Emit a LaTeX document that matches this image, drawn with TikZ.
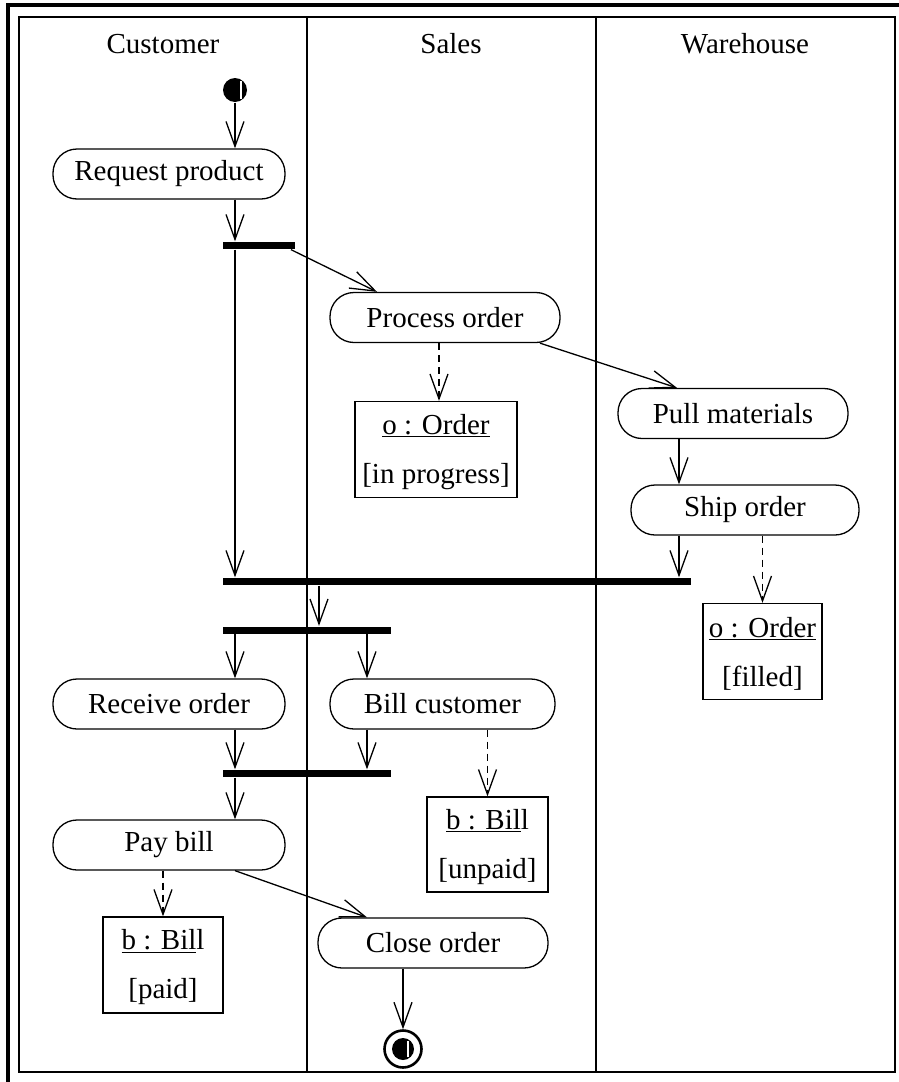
\documentclass[tikz,border=0pt]{standalone}
\usepackage{fontspec}
\setmainfont{Liberation Serif}
\usetikzlibrary{arrows.meta}
\begin{document}
\begin{tikzpicture}[x=1pt,y=-1pt,
  line width=1.3pt,
  >={Straight Barb[length=25pt,width=18pt,line width=1.3pt]},
  every node/.style={font=\fontsize{29}{35}\selectfont, inner sep=0pt},
  activity/.style={draw, rounded corners=24pt, minimum height=50pt},
  objbox/.style={draw, align=center, minimum height=96pt},
  bar/.style={fill=black, minimum height=7pt},
  flow/.style={->},
  objflow/.style={->, dash pattern=on 7pt off 5pt},
  lanetitle/.style={anchor=base}]

\useasboundingbox (0,0) rectangle (899,1082);

% frame and swimlanes
\draw[line width=3.5pt] (6.25,5) -- (899,5);
\draw[line width=3.5pt] (8,3.25) -- (8,1082);
\draw (19,17) rectangle (895,1072);
\draw (307,17) -- (307,1072);
\draw (596,17) -- (596,1072);

\node[lanetitle] (laneA) at (163,53) {Customer};
\node[lanetitle] (laneB) at (451,53) {Sales};
\node[lanetitle] (laneC) at (745,53) {Warehouse};

% start and end points
\node[circle, fill=black, minimum size=24pt] (init) at (235,90) {};
\draw[white, line width=1.2pt] ([xshift=6pt,yshift=-9pt]init.center) -- ([xshift=6pt,yshift=9pt]init.center);

\node[circle, draw, line width=2.6pt, minimum size=37pt] (final) at (403,1049) {};
\node[circle, fill=black, minimum size=22pt] (finalcore) at (403,1049) {};
\draw[white, line width=1.2pt] ([xshift=5pt,yshift=-8pt]finalcore.center) -- ([xshift=5pt,yshift=8pt]finalcore.center);

% activities
\node[activity, minimum width=232pt] (req)   at (169,174)   {Request product};
\node[activity, minimum width=230pt] (proc)  at (445,317.5) {Process order};
\node[activity, minimum width=230pt] (pull)  at (733,413.5) {Pull materials};
\node[activity, minimum width=228pt] (ship)  at (745,510)   {Ship order};
\node[activity, minimum width=232pt] (recv)  at (169,704)   {Receive order};
\node[activity, minimum width=225pt] (bill)  at (442.5,704) {Bill customer};
\node[activity, minimum width=232pt] (pay)   at (169,845)   {Pay bill};
\node[activity, minimum width=230pt] (close) at (433,943)   {Close order};

% fork and join bars
\node[bar, minimum width=72pt]  (fork1) at (259,245.5) {};
\node[bar, minimum width=468pt] (join1) at (457,581.5) {};
\node[bar, minimum width=168pt] (fork2) at (307,630)   {};
\node[bar, minimum width=168pt] (join2) at (307,773.5) {};

% object nodes
\node[objbox, minimum width=162pt] (ordA) at (436,449.5)
  {\rule{0pt}{25pt}\underline{o : Order}\\[14pt]{}[in progress]};
\node[objbox, minimum width=119pt] (ordB) at (762.5,651.5)
  {\rule{0pt}{25pt}\underline{o : Order}\\[14pt]{}[filled]};
\node[objbox, minimum width=121pt, minimum height=95pt] (billA) at (487.5,844.5)
  {\rule{0pt}{25pt}\underline{b : Bil}l\\[14pt]{}[unpaid]};
\node[objbox, minimum width=120pt] (billB) at (163,965)
  {\rule{0pt}{25pt}\underline{b : Bil}l\\[14pt]{}[paid]};

% control flow
\draw[flow] (init.south) -- ([xshift=66pt]req.north);
\draw[flow] ([xshift=66pt]req.south) -- ([xshift=-24pt]fork1.north);
\draw[flow] ([xshift=-24pt]fork1.south) -- ([xshift=-222pt]join1.north);
\draw[flow] ([xshift=32pt]fork1.south) -- ([xshift=-68pt]proc.north);
\draw[flow] ([xshift=95pt]proc.south) -- ([xshift=-56pt]pull.north);
\draw[flow] ([xshift=-54pt]pull.south) -- ([xshift=-66pt]ship.north);
\draw[flow] ([xshift=-66pt]ship.south) -- ([xshift=222pt]join1.north);
\draw[flow] ([xshift=-138pt]join1.south) -- ([xshift=12pt]fork2.north);
\draw[flow] ([xshift=-72pt]fork2.south) -- ([xshift=66pt]recv.north);
\draw[flow] ([xshift=60pt]fork2.south) -- ([xshift=-75.5pt]bill.north);
\draw[flow] ([xshift=66pt]recv.south) -- ([xshift=-72pt]join2.north);
\draw[flow] ([xshift=-75.5pt]bill.south) -- ([xshift=60pt]join2.north);
\draw[flow] ([xshift=-72pt]join2.south) -- ([xshift=66pt]pay.north);
\draw[flow] ([xshift=66pt]pay.south) -- ([xshift=-66pt]close.north);
\draw[flow] ([xshift=-30pt]close.south) -- (final.north);

% object flow
\draw[objflow] ([xshift=3pt]ordA.north |- proc.south) -- ([xshift=3pt]ordA.north);
\draw[objflow] (ordB.north |- ship.south) -- (ordB.north);
\draw[objflow] (billA.north |- bill.south) -- (billA.north);
\draw[objflow] (billB.north |- pay.south) -- (billB.north);
\end{tikzpicture}
\end{document}
